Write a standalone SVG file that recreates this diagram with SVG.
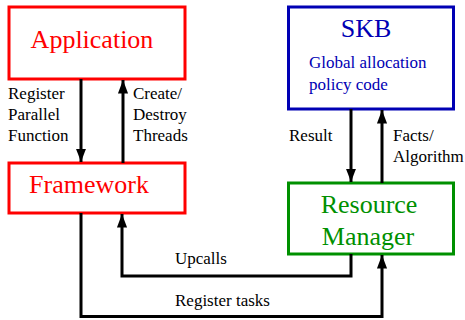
<svg xmlns="http://www.w3.org/2000/svg" width="465" height="320" viewBox="0 0 465 320">
<style>
.box{fill:#fff;stroke-width:3}
.big{font-family:"Liberation Serif",serif;font-size:26px;text-anchor:middle}
.lbl{font-family:"Liberation Serif",serif;font-size:17px;fill:#000}
.con{fill:none;stroke:#000;stroke-width:3}
</style>
<defs>
<marker id="ah" viewBox="0 0 10 10" refX="10" refY="5" markerWidth="4.5" markerHeight="3.4" orient="auto" markerUnits="strokeWidth" preserveAspectRatio="none">
<path d="M0,0 L10,5 L0,10 Z" fill="#000"/>
</marker>
</defs>
<rect width="465" height="320" fill="#fff"/>
<g id="application">
<rect class="box" x="9" y="7" width="176" height="72" stroke="#ff0000"/>
<text class="big" x="92" y="48" fill="#ff0000">Application</text>
</g>
<g id="framework">
<rect class="box" x="9" y="163" width="176" height="50" stroke="#ff0000"/>
<text class="big" x="89" y="193" fill="#ff0000">Framework</text>
</g>
<g id="skb">
<rect class="box" x="288.5" y="7" width="165" height="102" stroke="#0000b4"/>
<text class="big" x="366" y="37" fill="#0000b4">SKB</text>
<text x="309" y="68" font-family="Liberation Serif, serif" font-size="17px" fill="#0000b4">Global allocation</text>
<text x="309" y="90" font-family="Liberation Serif, serif" font-size="17px" fill="#0000b4">policy code</text>
</g>
<g id="resource-manager">
<rect class="box" x="288.5" y="183" width="165" height="71" stroke="#009000"/>
<text class="big" x="369" y="213" fill="#009000">Resource</text>
<text class="big" x="368" y="245" fill="#009000">Manager</text>
</g>
<g id="connectors">
<line class="con" x1="81" y1="79" x2="81" y2="162" marker-end="url(#ah)"/>
<line class="con" x1="123" y1="163" x2="123" y2="80" marker-end="url(#ah)"/>
<line class="con" x1="351" y1="109" x2="351" y2="182" marker-end="url(#ah)"/>
<line class="con" x1="382" y1="183" x2="382" y2="110" marker-end="url(#ah)"/>
<polyline class="con" points="351,254 351,276 122,276 122,214" marker-end="url(#ah)"/>
<polyline class="con" points="81,213 81,316.5 382,316.5 382,255" marker-end="url(#ah)"/>
</g>
<g id="labels">
<text class="lbl" x="8" y="99">Register</text>
<text class="lbl" x="8" y="120">Parallel</text>
<text class="lbl" x="8" y="141">Function</text>
<text class="lbl" x="133" y="99">Create/</text>
<text class="lbl" x="133" y="120">Destroy</text>
<text class="lbl" x="133" y="141">Threads</text>
<text class="lbl" x="289" y="141">Result</text>
<text class="lbl" x="393" y="141">Facts/</text>
<text class="lbl" x="393" y="162">Algorithm</text>
<text class="lbl" x="175" y="264">Upcalls</text>
<text class="lbl" x="175" y="306">Register tasks</text>
</g>
</svg>
